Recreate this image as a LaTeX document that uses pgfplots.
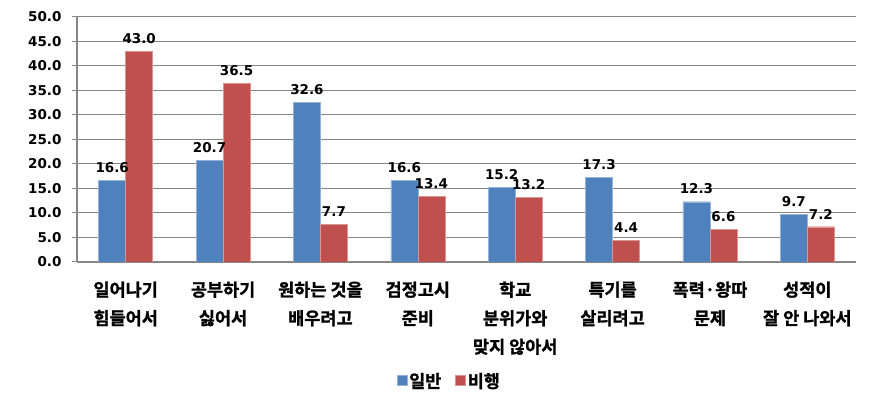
\documentclass[border=0pt]{standalone}
\usepackage{pgfplots}
\pgfplotsset{compat=1.18}
\usepackage{fontspec}
\setmainfont{DejaVu Sans}
\newfontfamily\kr{Noto Sans CJK KR Bold}[FakeBold=1.2]
\definecolor{ilban}{HTML}{4F81BD}
\definecolor{bihaeng}{HTML}{C0504D}
\definecolor{gridgray}{HTML}{868686}
\begin{document}
\begin{tikzpicture}
\begin{axis}[
  scale only axis,
  width=779pt, height=245pt,
  ybar=0pt, bar width=27pt,
  xmin=-0.5, xmax=7.5,
  ymin=0, ymax=50,
  ytick={0,5,...,50},
  xtick={0,...,7},
  xticklabels={{일어나기\\힘들어서},{공부하기\\싫어서},{원하는 것을\\배우려고},{검정고시\\준비},{학교\\분위가와\\맞지 않아서},{특기를\\살리려고},{폭력·왕따\\문제},{성적이\\잘 안 나와서}},
  x tick label style={align=center, font=\kr\fontsize{17.5}{28.5}\selectfont, yshift=-11pt},
  major tick length=5pt,
  xtick style={draw=none},
  extra x ticks={-0.5,0.5,...,7.5},
  extra x tick labels={},
  extra x tick style={grid=none, tick style={draw=gridgray, line width=1pt}},
  tick align=outside,
  ytick style={draw=gridgray, line width=1pt},
  axis x line*=bottom, axis y line*=left,
  axis line style={draw=gridgray, line width=1.2pt, -},
  ymajorgrids, grid style={draw=gridgray, line width=1pt},
  /pgf/number format/.cd, fixed, fixed zerofill, precision=1, assume math mode=true,
  /pgfplots/.cd,
  y tick label style={font=\fontsize{13.5}{16}\selectfont\bfseries, xshift=-7pt},
  nodes near coords,
  nodes near coords style={font=\fontsize{13.5}{16}\selectfont\bfseries, text=black, yshift=4pt},
  legend columns=2,
  legend style={at={(0.478,-0.486)}, anchor=center, draw=none, font=\kr\fontsize{17.5}{20}\selectfont,
    /tikz/every even column/.append style={column sep=12pt}},
  legend image code/.code={\fill[#1] (0pt,-4pt) rectangle (10pt,6pt);},
]
\addplot[fill=ilban, draw=ilban!60!white] coordinates {(0,16.6) (1,20.7) (2,32.6) (3,16.6) (4,15.2) (5,17.3) (6,12.3) (7,9.7)};
\addplot[fill=bihaeng, draw=bihaeng!60!white] coordinates {(0,43.0) (1,36.5) (2,7.7) (3,13.4) (4,13.2) (5,4.4) (6,6.6) (7,7.2)};
\legend{일반,비행}
\coordinate (sw) at (rel axis cs:0,0);
\coordinate (ne) at (rel axis cs:1,1);
\end{axis}
\pgfresetboundingbox
\path ([shift={(-77pt,-145pt)}]sw) rectangle ([shift={(20pt,17pt)}]ne);
\end{tikzpicture}
\end{document}
